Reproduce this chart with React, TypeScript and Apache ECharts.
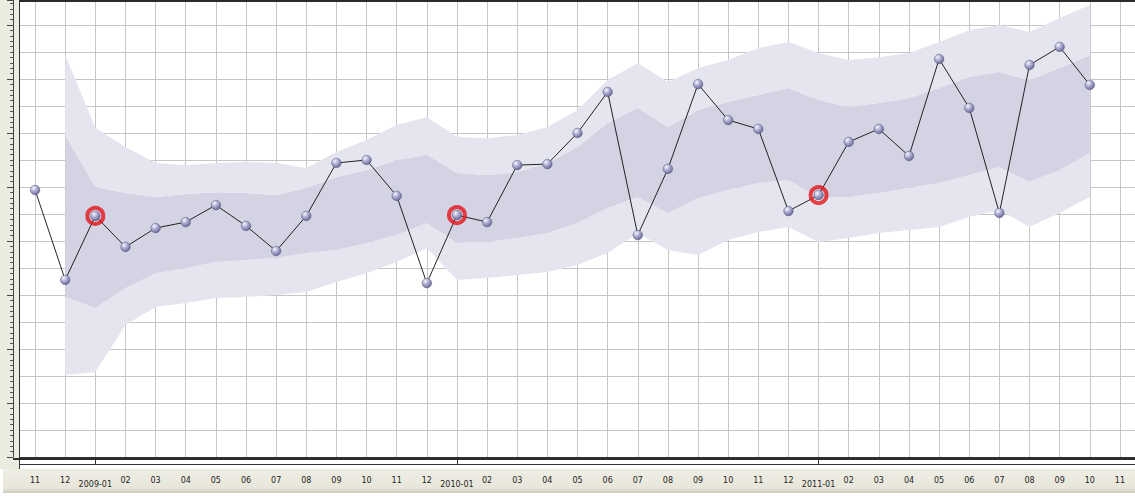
import React, { useEffect, useRef } from "react";
import * as echarts from "echarts";

// Month axis, 2008-11 .. 2011-11
const months = [
  "11", "12",
  "2009-01", "02", "03", "04", "05", "06", "07", "08", "09", "10", "11", "12",
  "2010-01", "02", "03", "04", "05", "06", "07", "08", "09", "10", "11", "12",
  "2011-01", "02", "03", "04", "05", "06", "07", "08", "09", "10", "11",
];

// Observed monthly values
const actual = [
  98.9, 65.6, 89.3, 77.8, 84.8, 87.0, 93.3, 85.6, 76.3, 89.3, 108.9, 110.0, 96.7,
  64.4, 89.6, 87.0, 108.1, 108.5, 120.0, 135.2, 82.2, 106.7, 138.1, 124.8, 121.5,
  91.1, 97.0, 116.7, 121.5, 111.5, 147.4, 129.3, 90.4, 145.2, 151.9, 137.8, null,
];

// Outer (wide) band
const outerHigh = [
  null, 148.9, 121.9, 114.8, 108.9, 108.1, 108.9, 109.3, 108.9, 107.0, 113.0, 117.4,
  123.0, 125.9, 118.5, 118.1, 119.3, 122.2, 128.5, 139.6, 145.9, 138.9, 144.1, 147.0,
  151.5, 153.7, 149.6, 147.0, 148.1, 149.6, 153.7, 158.1, 160.0, 157.4, 162.6, 167.4, null,
];
const outerLow = [
  null, 30.4, 31.5, 48.9, 55.6, 57.0, 58.9, 59.3, 60.0, 61.1, 64.8, 68.1,
  72.2, 77.4, 65.6, 66.3, 67.4, 68.5, 71.1, 75.6, 83.0, 76.7, 74.8, 80.4,
  83.3, 85.2, 79.6, 81.1, 83.0, 84.1, 85.2, 88.9, 91.5, 85.2, 90.4, 96.3, null,
];

// Inner (narrow) band
const innerHigh = [
  null, 119.3, 100.0, 97.8, 96.3, 97.4, 98.1, 97.8, 97.0, 99.6, 103.7, 106.3,
  110.0, 111.9, 105.2, 104.4, 105.6, 108.9, 114.8, 123.7, 129.3, 122.2, 128.5, 131.5,
  134.1, 136.7, 132.2, 129.6, 131.1, 133.0, 136.7, 140.7, 142.6, 139.6, 144.1, 148.9, null,
];
const innerLow = [
  null, 59.3, 55.2, 62.6, 68.1, 70.0, 72.2, 73.0, 73.7, 75.6, 76.7, 79.3,
  82.2, 86.7, 79.3, 79.6, 81.1, 83.0, 86.7, 92.2, 96.3, 90.4, 95.9, 98.9,
  101.5, 102.6, 96.3, 96.3, 97.8, 99.6, 101.5, 104.4, 107.4, 101.9, 106.3, 112.6, null,
];

// Months marked with a red ring
const highlighted = [2, 14, 26];

const Y_MAX = 169.26;
const FONT = "DejaVu Sans";
const OUTER_COLOR = "#e5e5ef";
const INNER_COLOR = "#d3d3e4";
const BEIGE = "#ecebe0";

const diff = (a: (number | null)[], b: (number | null)[]) =>
  a.map((v, i) => (v == null || b[i] == null ? null : +(v - (b[i] as number)).toFixed(2)));

export default function App() {
  const ref = useRef<HTMLDivElement>(null);

  useEffect(() => {
    if (!ref.current) return;
    const chart = echarts.init(ref.current, undefined, { renderer: "svg" });

    const sphere = {
      type: "radial",
      x: 0.35,
      y: 0.3,
      r: 0.8,
      colorStops: [
        { offset: 0, color: "#f6f6ff" },
        { offset: 0.45, color: "#a9a9cf" },
        { offset: 1, color: "#5b5b88" },
      ],
    };

    const bandSeries = (name: string, data: (number | null)[], color: string | null) => ({
      name,
      type: "line",
      stack: "band",
      data,
      symbol: "none",
      lineStyle: { width: 0, opacity: 0 },
      areaStyle: color ? { color, opacity: 1 } : { opacity: 0 },
      z: 1,
      silent: true,
    });

    chart.setOption({
      animation: false,
      backgroundColor: "#ffffff",
      grid: { left: 20, top: 0, width: 1118, height: 457, show: false },
      xAxis: [
        {
          type: "category",
          data: months,
          boundaryGap: true,
          position: "bottom",
          offset: 12,
          axisLine: { show: true, lineStyle: { color: "#333", width: 1 } },
          axisTick: { show: true, alignWithLabel: true, length: 3, lineStyle: { color: "#333" } },
          axisLabel: {
            interval: 0,
            margin: 7,
            fontFamily: FONT,
            fontSize: 8,
            color: "#1e1e1e",
            formatter: (v: string) => (v.length > 2 ? `{y|${v}}` : `{m|${v}}`),
            rich: {
              m: { fontFamily: FONT, fontSize: 8, color: "#1e1e1e" },
              y: { fontFamily: FONT, fontSize: 8, color: "#1e1e1e", padding: [4, 0, 0, 0] },
            },
          },
          splitLine: { show: true, alignWithLabel: true, lineStyle: { color: "#c6c6c6", width: 1 } },
        },
        {
          type: "category",
          data: months,
          boundaryGap: true,
          position: "bottom",
          offset: 12,
          axisLine: { show: false },
          axisTick: {
            show: true,
            alignWithLabel: true,
            length: 8,
            interval: (_i: number, v: string) => v.length > 2,
            lineStyle: { color: "#333" },
          },
          axisLabel: { show: false },
          splitLine: { show: false },
        },
      ],
      yAxis: [
        {
          type: "value",
          min: 0,
          max: Y_MAX,
          interval: 10,
          axisLine: { show: false },
          axisTick: { show: false },
          axisLabel: { show: false },
          splitLine: { show: true, lineStyle: { color: "#c6c6c6", width: 1 } },
        },
        {
          type: "value",
          min: 0,
          max: Y_MAX,
          interval: 20,
          position: "left",
          offset: 7,
          axisLine: { show: true, lineStyle: { color: "#444", width: 1 } },
          axisTick: { show: true, length: 6, lineStyle: { color: "#444" } },
          minorTick: { show: true, splitNumber: 10, length: 3, lineStyle: { color: "#555" } },
          axisLabel: { show: false },
          splitLine: { show: false },
        },
      ],
      graphic: [
        { type: "rect", z: -10, shape: { x: 0, y: 0, width: 19, height: 469 }, style: { fill: BEIGE } },
        {
          type: "rect",
          z: -10,
          shape: { x: 3, y: 469, width: 1132, height: 24 },
          style: {
            fill: {
              type: "linear",
              x: 0, y: 0, x2: 0, y2: 1,
              colorStops: [
                { offset: 0, color: "#efeee5" },
                { offset: 0.8, color: "#e8e6da" },
                { offset: 1, color: "#cfccbd" },
              ],
            },
          },
        },
        { type: "line", z: 10, shape: { x1: 19, y1: 1, x2: 1135, y2: 1 }, style: { stroke: "#2b2b2b", lineWidth: 2 } },
        { type: "line", z: 10, shape: { x1: 19.5, y1: 0, x2: 19.5, y2: 469 }, style: { stroke: "#333", lineWidth: 1 } },
        { type: "line", z: 10, shape: { x1: 13, y1: 459, x2: 1135, y2: 459 }, style: { stroke: "#2b2b2b", lineWidth: 2 } },
        { type: "line", z: 10, shape: { x1: 19, y1: 464.5, x2: 1135, y2: 464.5 }, style: { stroke: "#333", lineWidth: 1 } },
      ],
      series: [
        bandSeries("outerLow", outerLow, null),
        bandSeries("outerLower", diff(innerLow, outerLow), OUTER_COLOR),
        bandSeries("inner", diff(innerHigh, innerLow), INNER_COLOR),
        bandSeries("outerUpper", diff(outerHigh, innerHigh), OUTER_COLOR),
        {
          name: "actual",
          type: "line",
          data: actual,
          z: 3,
          symbol: "circle",
          symbolSize: 9.5,
          showAllSymbol: true,
          lineStyle: { color: "#222", width: 1 },
          itemStyle: { color: sphere, borderColor: "#55557a", borderWidth: 0.5 },
        },
        {
          name: "marked",
          type: "scatter",
          z: 4,
          data: highlighted.map((i) => [i, actual[i]]),
          symbol: "circle",
          symbolSize: 16,
          itemStyle: { color: "rgba(0,0,0,0)", borderColor: "#e3151a", borderWidth: 4 },
          silent: true,
        },
      ],
    });

    return () => chart.dispose();
  }, []);

  return (
    <div style={{ position: "fixed", left: 0, top: 0, width: 1135, height: 501, overflow: "hidden", background: "#fff" }}>
      <div ref={ref} style={{ width: 1135, height: 501 }} />
    </div>
  );
}
